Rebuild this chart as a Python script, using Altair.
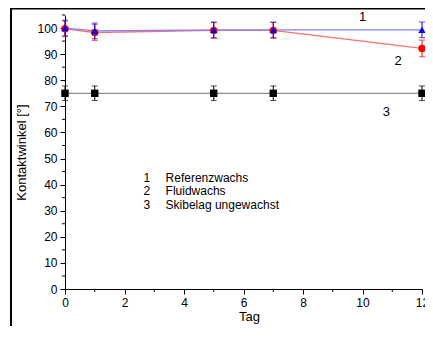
import altair as alt
import pandas as pd

days = [0, 1, 5, 7, 12]
ref_vals = [100.0, 98.9, 99.3, 99.3, 99.3]
fluid_vals = [99.7, 98.3, 99.1, 99.1, 92.2]
base_vals = [75.0, 75.0, 75.0, 75.0, 75.0]
ref_err = [3.0, 3.0, 3.0, 3.0, 3.0]
fluid_err = [3.0, 3.0, 3.0, 3.0, 3.2]
base_err = [2.8, 2.8, 2.8, 2.8, 2.8]

series_names = ["Skibelag ungewachst", "Fluidwachs", "Referenzwachs"]
line_colors = ["#8c8c8c", "#ff7070", "#8080ff"]
marker_colors = ["#000000", "#ff0000", "#0000e0"]
shapes = ["square", "circle", "triangle-up"]

minor_y = [5, 15, 25, 35, 45, 55, 65, 75, 85, 95, 105]
minor_x = [1, 3, 5, 7, 9, 11]

label_nums = ["1", "2", "3"]
label_x = [10.0, 11.2, 10.8]
label_y = [104.2, 87.3, 67.7]

legend_nums = ["1", "2", "3"]
legend_texts = ["Referenzwachs", "Fluidwachs", "Skibelag ungewachst"]
legend_num_x = [2.75, 2.75, 2.75]
legend_text_x = [3.38, 3.38, 3.38]
legend_y = [42.6, 37.4, 32.3]

rows = []
for name, vals, errs in [
    ("Skibelag ungewachst", base_vals, base_err),
    ("Fluidwachs", fluid_vals, fluid_err),
    ("Referenzwachs", ref_vals, ref_err),
]:
    for d, v, e in zip(days, vals, errs):
        rows.append({"series": name, "day": d, "value": v, "lo": v - e, "hi": v + e})
df = pd.DataFrame(rows)

FONT = "Liberation Sans"
xscale = alt.Scale(domain=[0, 12], nice=False, zero=False)
yscale = alt.Scale(domain=[0, 105], nice=False)

xaxis = alt.Axis(values=[0, 2, 4, 6, 8, 10, 12], title="Tag", grid=False, tickSize=5,
                 labelFontSize=12, labelFont=FONT, titleFont=FONT, titleFontSize=13,
                 titleFontWeight="normal", labelColor="#000", titleColor="#000",
                 domainColor="#000", tickColor="#000", labelPadding=3, titlePadding=2,
                 titleX=184, labelFlush=False, labelOverlap=False)
yaxis = alt.Axis(values=list(range(0, 101, 10)), title="Kontaktwinkel [°]", grid=False,
                 tickSize=5, labelFontSize=12, labelFont=FONT, titleFont=FONT,
                 titleFontSize=13, titleFontWeight="normal", labelColor="#000",
                 titleColor="#000", domainColor="#000", tickColor="#000",
                 labelPadding=3, titlePadding=8)

X = lambda f: alt.X(f, scale=xscale, axis=xaxis)
Y = lambda f: alt.Y(f, scale=yscale, axis=yaxis)

base = alt.Chart(df)

lines = base.mark_line(strokeWidth=1.3).encode(
    x=X("day:Q"), y=Y("value:Q"),
    color=alt.Color("series:N", scale=alt.Scale(domain=series_names, range=line_colors), legend=None),
    order=alt.Order("day:Q"),
)

errbars = base.mark_errorbar(ticks=alt.MarkConfig(size=6), thickness=1).encode(
    x=X("day:Q"), y=Y("lo:Q"), y2="hi:Q",
    color=alt.Color("series:N", scale=alt.Scale(domain=series_names, range=marker_colors), legend=None),
)

points = base.mark_point(filled=True, size=55, opacity=1).encode(
    x=X("day:Q"), y=Y("value:Q"),
    fill=alt.Fill("series:N", scale=alt.Scale(domain=series_names, range=marker_colors), legend=None),
    shape=alt.Shape("series:N", scale=alt.Scale(domain=series_names, range=shapes), legend=None),
)

miny = alt.Chart(pd.DataFrame({"v": minor_y})).mark_rule(color="#000", strokeWidth=1).encode(
    y=Y("v:Q"), x=alt.value(0), x2=alt.value(-3))
minx = alt.Chart(pd.DataFrame({"v": minor_x})).mark_rule(color="#000", strokeWidth=1).encode(
    x=X("v:Q"), y=alt.value(274), y2=alt.value(277))

labels = alt.Chart(pd.DataFrame({"t": label_nums, "x": label_x, "y": label_y})).mark_text(
    font=FONT, fontSize=13, color="#000", align="center", baseline="middle").encode(
    x=X("x:Q"), y=Y("y:Q"), text="t:N")

leg_df = pd.DataFrame({"n": legend_nums, "t": legend_texts, "nx": legend_num_x,
                       "tx": legend_text_x, "y": legend_y})
leg_nums = alt.Chart(leg_df).mark_text(font=FONT, fontSize=12, color="#000", align="center",
                                       baseline="middle").encode(
    x=X("nx:Q"), y=Y("y:Q"), text="n:N")
leg_txt = alt.Chart(leg_df).mark_text(font=FONT, fontSize=12, color="#000", align="left",
                                      baseline="middle").encode(
    x=X("tx:Q"), y=Y("y:Q"), text="t:N")

frame_top = alt.Chart(pd.DataFrame({"a": [0]})).mark_rule(color="#000", strokeWidth=2).encode(
    x=alt.value(-55), x2=alt.value(420), y=alt.value(-6.5))
frame_left = alt.Chart(pd.DataFrame({"a": [0]})).mark_rule(color="#000", strokeWidth=2).encode(
    x=alt.value(-54), y=alt.value(-7), y2=alt.value(330))

chart = alt.layer(
    lines, errbars, points, miny, minx, labels, leg_nums, leg_txt, frame_top, frame_left
).resolve_scale(
    color="independent", fill="independent", shape="independent"
).properties(
    width=357, height=274,
    autosize=alt.AutoSizeParams(type="none"),
    padding={"left": 57, "top": 7, "right": 3, "bottom": 37},
    background="#ffffff",
).configure_view(stroke=None)

chart.save("out.html", embed_options={"renderer": "svg", "actions": False})
